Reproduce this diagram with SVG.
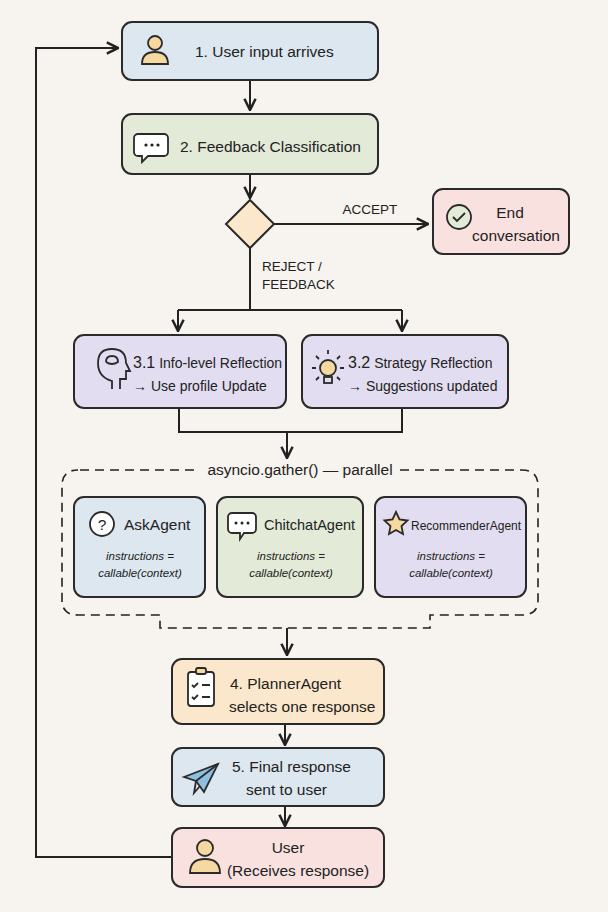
<svg xmlns="http://www.w3.org/2000/svg" width="608" height="912" viewBox="0 0 608 912">
<defs>
<marker id="ah" viewBox="0 0 10 10" refX="9" refY="5" markerWidth="7" markerHeight="7" orient="auto-start-reverse"><path d="M1,1 L9,5 L1,9" fill="none" stroke="#222" stroke-width="1.8"/></marker>
<style>
.n{stroke:#2a2a2a;stroke-width:2}
.t{font-family:"Liberation Sans",Arial,sans-serif;font-size:15.5px;fill:#222}
.s{font-family:"Liberation Sans",Arial,sans-serif;font-size:13.5px;fill:#222}
.i{font-family:"Liberation Sans",Arial,sans-serif;font-size:11.5px;font-style:italic;fill:#222}
.c{fill:none;stroke:#222;stroke-width:2}
.ic{stroke:#2a2a2a;stroke-width:1.8}
.o{fill:none}
</style>
</defs>
<rect width="608" height="912" fill="#f7f3ee"/>
<g id="connectors" class="c">
<path d="M250,80 V110" marker-end="url(#ah)"/>
<path d="M250,174 V198" marker-end="url(#ah)"/>
<path d="M274,224 H428" marker-end="url(#ah)"/>
<path d="M250,248 V310 M178,310 H402"/>
<path d="M178,310 V331" marker-end="url(#ah)"/>
<path d="M402,310 V331" marker-end="url(#ah)"/>
<path d="M179,408 V432 H402 V408"/>
<path d="M287,432 V458" marker-end="url(#ah)"/>
<path d="M287,628 V655" marker-end="url(#ah)"/>
<path d="M285,724 V745" marker-end="url(#ah)"/>
<path d="M285,806 V826" marker-end="url(#ah)"/>
<path d="M172,857 H36 V48 H118" marker-end="url(#ah)"/>
<path d="M80,470 H200 M400,470 H522 Q538,470 538,486 V600 Q538,615 522,615 H430 V628 H160 V615 H78 Q62,615 62,600 V486 Q62,470 78,470" stroke-dasharray="9,6" stroke-width="1.6"/>
</g>
<text class="s" x="370" y="214" text-anchor="middle">ACCEPT</text>
<text class="s" x="262" y="271">REJECT /</text>
<text class="s" x="262" y="289">FEEDBACK</text>
<text class="t" x="300" y="475" text-anchor="middle">asyncio.gather() — parallel</text>

<g id="n1"><rect class="n" x="122" y="22" width="256" height="58" rx="10" fill="#dde7ef"/>
<circle cx="155" cy="43" r="7" fill="#f5d9a0" class="ic"/><path d="M142,64 Q142,52 155,52 Q168,52 168,64 Z" fill="#f5d9a0" class="ic"/>
<text class="t" x="195" y="57">1. User input arrives</text></g>

<g id="n2"><rect class="n" x="122" y="114" width="256" height="60" rx="10" fill="#e3ead8"/>
<path d="M138,134 h26 a4,4 0 0 1 4,4 v14 a4,4 0 0 1 -4,4 h-16 l-6,6 v-6 h-4 a4,4 0 0 1 -4,-4 v-14 a4,4 0 0 1 4,-4z" fill="#fff" class="ic"/>
<circle cx="146" cy="145" r="1.6" fill="#222"/><circle cx="152" cy="145" r="1.6" fill="#222"/><circle cx="158" cy="145" r="1.6" fill="#222"/>
<text class="t" x="180" y="152">2. Feedback Classification</text></g>

<g id="decision"><path class="n" d="M250,200 L274,224 L250,248 L226,224 Z" fill="#fbe8cc"/></g>

<g id="end"><rect class="n" x="433" y="189" width="136" height="65" rx="10" fill="#f8e1df"/>
<circle cx="459" cy="217" r="12" fill="#e3ead8" class="ic"/><path d="M453,217 l4,4 l8,-8" class="ic o"/>
<text class="t" x="510" y="218" text-anchor="middle">End</text>
<text class="t" x="516" y="241" text-anchor="middle">conversation</text></g>

<g id="n31"><rect class="n" x="74" y="335" width="212" height="73" rx="10" fill="#e2ddf0"/>
<path d="M112,389 v-8 q-14,-4 -14,-18 q0,-14 14,-14 q14,0 14,14 l4,8 h-4 v8 h-6 v10" class="ic o"/>
<path d="M106,362 q0,-6 6,-6 q6,0 6,6 q-6,4 -12,0" class="ic o" stroke-width="1.3"/>
<text class="t" x="133" y="368" style="font-size:14px"><tspan style="font-size:16px">3.1</tspan> Info-level Reflection</text>
<text class="t" x="133" y="391" style="font-size:14px">→ Use profile Update</text></g>

<g id="n32"><rect class="n" x="302" y="335" width="206" height="73" rx="10" fill="#e2ddf0"/>
<circle cx="328" cy="368" r="8" fill="#f5d9a0" class="ic"/><rect x="324" y="377" width="8" height="6" class="ic o"/>
<path d="M328,354 v-4 M316,368 h-4 M340,368 h4 M319,359 l-3,-3 M337,359 l3,-3 M319,377 l-3,3 M337,377 l3,3" class="ic o" stroke-width="1.3"/>
<text class="t" x="348" y="368" style="font-size:14px"><tspan style="font-size:16px">3.2</tspan> Strategy Reflection</text>
<text class="t" x="348" y="391" style="font-size:14px">→ Suggestions updated</text></g>

<g id="ask"><rect class="n" x="74" y="497" width="131" height="100" rx="10" fill="#dde7ef"/>
<circle cx="102" cy="524" r="12" fill="#fff" class="ic"/>
<text class="t" x="102" y="530" text-anchor="middle">?</text>
<text class="t" x="124" y="530">AskAgent</text>
<text class="i" x="140" y="560" text-anchor="middle">instructions =</text>
<text class="i" x="140" y="577" text-anchor="middle">callable(context)</text></g>

<g id="chit"><rect class="n" x="217" y="497" width="146" height="100" rx="10" fill="#e3ead8"/>
<path d="M232,513 h20 a4,4 0 0 1 4,4 v12 a4,4 0 0 1 -4,4 h-8 l-4,6 v-6 h-8 a4,4 0 0 1 -4,-4 v-12 a4,4 0 0 1 4,-4z" fill="#fff" class="ic"/>
<circle cx="236" cy="523" r="1.5" fill="#222"/><circle cx="242" cy="523" r="1.5" fill="#222"/><circle cx="248" cy="523" r="1.5" fill="#222"/>
<text class="t" x="264" y="530" style="font-size:14.5px">ChitchatAgent</text>
<text class="i" x="291" y="560" text-anchor="middle">instructions =</text>
<text class="i" x="291" y="577" text-anchor="middle">callable(context)</text></g>

<g id="rec"><rect class="n" x="375" y="497" width="151" height="100" rx="10" fill="#e2ddf0"/>
<path d="M396,512 l3.5,7.5 8,1 -6,5.5 1.5,8 -7,-4 -7,4 1.5,-8 -6,-5.5 8,-1z" fill="#f5d9a0" class="ic"/>
<text class="t" x="411" y="530" style="font-size:12px">RecommenderAgent</text>
<text class="i" x="451" y="560" text-anchor="middle">instructions =</text>
<text class="i" x="451" y="577" text-anchor="middle">callable(context)</text></g>

<g id="n4"><rect class="n" x="172" y="659" width="212" height="65" rx="10" fill="#fbe8cc"/>
<rect x="188" y="672" width="26" height="34" rx="3" fill="#fff" class="ic"/><rect x="196" y="668" width="10" height="6" rx="2" fill="#f5d9a0" class="ic"/>
<path d="M192,685 l2,2 4,-4 M202,685 h8 M192,697 l2,2 4,-4 M202,697 h8" class="ic o" stroke-width="1.3"/>
<text class="t" x="230" y="689">4. PlannerAgent</text>
<text class="t" x="229" y="712">selects one response</text></g>

<g id="n5"><rect class="n" x="172" y="748" width="212" height="58" rx="10" fill="#dde7ef"/>
<path d="M184,777 L218,764 L204,792 L196,781 Z" fill="#8fbfe0" class="ic"/><path d="M196,781 L218,764 M196,781 L194,793 L200,786" class="ic o"/>
<text class="t" x="232" y="772">5. Final response</text>
<text class="t" x="246" y="795">sent to user</text></g>

<g id="user"><rect class="n" x="172" y="828" width="212" height="59" rx="10" fill="#f8e1df"/>
<circle cx="205" cy="848" r="8" fill="#f5d9a0" class="ic"/><path d="M190,873 Q190,859 205,859 Q220,859 220,873 Z" fill="#f5d9a0" class="ic"/>
<text class="t" x="288" y="853" text-anchor="middle">User</text>
<text class="t" x="298" y="876" text-anchor="middle">(Receives response)</text></g>
</svg>
